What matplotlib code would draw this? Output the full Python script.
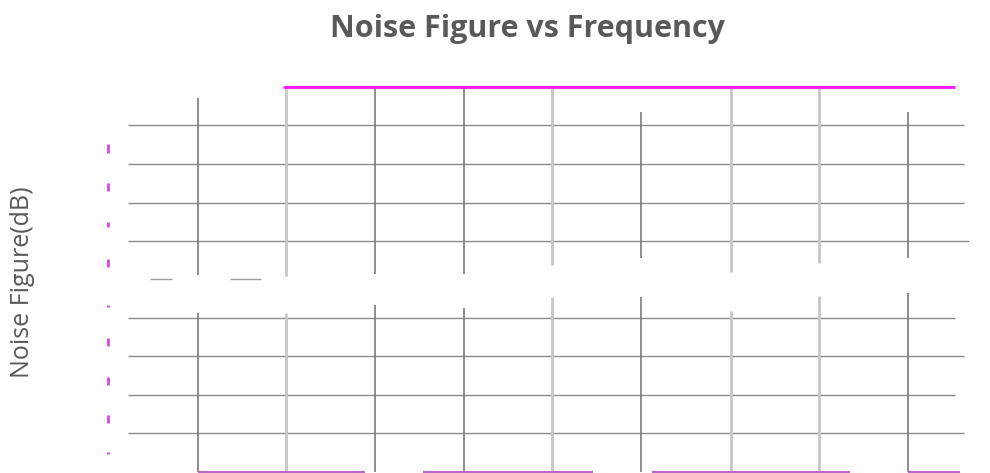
import matplotlib
matplotlib.use("Agg")
import matplotlib.pyplot as plt

# gridlines of the two panels (pixel-like units of the chart canvas)
grid_y_top = [125, 164, 203, 241]
grid_x0_top = [128, 128, 128, 128]
grid_x1_top = [964, 964, 964, 969]

grid_y_bottom = [318, 356, 395, 433]
grid_x0_bottom = [128, 128, 128, 128]
grid_x1_bottom = [955, 964, 955, 964]

# vertical lines: x, top-panel extent, bottom-panel extent, shade
vline_x = [198, 286, 375, 464, 552, 641, 731, 819, 908]
vline_top_y0 = [98, 87, 87, 87, 87, 112, 87, 87, 112]
vline_top_y1 = [275, 276, 274, 274, 265, 258, 272, 263, 258]
vline_bot_y0 = [313, 313, 305, 308, 297, 297, 311, 296, 293]
vline_bot_y1 = [472, 472, 472, 472, 472, 472, 472, 472, 472]
vline_light = [False, True, False, False, True, False, True, True, False]

# magenta series line at the top
series_x = [283, 955]
series_y = [87, 87]

# magenta tick marks on the left
tick_y = [149, 187, 224, 263, 306, 342, 381, 419, 453]
tick_len = [9, 8, 5, 8, 2, 8, 8, 8, 2]

# purple segments along the bottom
bottom_x0 = [198, 423, 652, 908]
bottom_x1 = [365, 593, 850, 960]

# small gray dashes under the top panel
dash_x0 = [150, 230]
dash_x1 = [172, 261]

fig = plt.figure(figsize=(9.9, 4.73), dpi=100)
ax = fig.add_axes([0, 0, 1, 1])
ax.set_xlim(0, 990)
ax.set_ylim(473, 0)
ax.axis("off")

ax.hlines(grid_y_top, grid_x0_top, grid_x1_top, color="#8a8a8a", lw=1.0)
ax.hlines(grid_y_bottom, grid_x0_bottom, grid_x1_bottom, color="#8a8a8a", lw=1.0)

for x, a0, a1, b0, b1, light in zip(vline_x, vline_top_y0, vline_top_y1,
                                     vline_bot_y0, vline_bot_y1, vline_light):
    c = "#c6c6c6" if light else "#7a7a7a"
    w = 2.0 if light else 1.2
    ax.vlines([x, x], [a0, b0], [a1, b1], color=c, lw=w)

ax.plot(series_x, series_y, color="#ff10ff", lw=2.0, solid_capstyle="butt")

for y, l in zip(tick_y, tick_len):
    ax.vlines(108, y - l / 2, y + l / 2, color="#d848e0", lw=2.0)

ax.hlines([472] * len(bottom_x0), bottom_x0, bottom_x1, color="#b868c8", lw=1.5)
ax.hlines([279] * len(dash_x0), dash_x0, dash_x1, color="#9a9a9a", lw=1.0)

ax.text(528, 37, "Noise Figure vs Frequency", ha="center", va="baseline",
        fontsize=22, fontweight="bold", color="#595959", family="Open Sans")
ax.text(23, 282, "Noise Figure(dB)", ha="center", va="center", rotation=90,
        fontsize=18, color="#595959", family="Open Sans")

fig.savefig("out.png", dpi=100)
